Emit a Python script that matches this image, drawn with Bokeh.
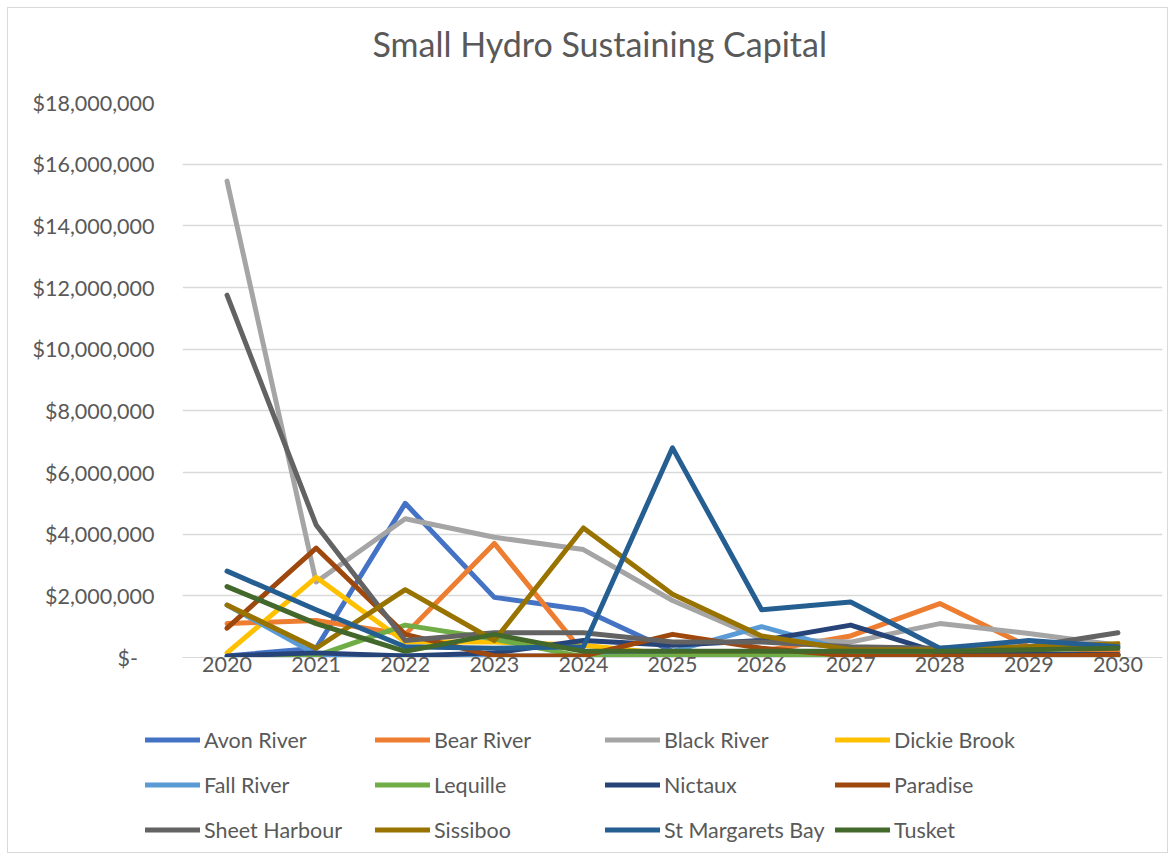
from bokeh.plotting import figure
from bokeh.layouts import column, row
from bokeh.models import (Legend, LegendItem, CustomJSTickFormatter, FixedTicker, Range1d,
                          FactorRange, Title)
from bokeh.embed import file_html
from bokeh.resources import INLINE

years = ["2020", "2021", "2022", "2023", "2024", "2025", "2026", "2027", "2028", "2029", "2030"]

avon_river = [50000, 300000, 5000000, 1950000, 1550000, 200000, 100000, 80000, 80000, 80000, 80000]
bear_river = [1100000, 1200000, 750000, 3700000, 150000, 100000, 200000, 700000, 1750000, 350000, 200000]
black_river = [15450000, 2450000, 4500000, 3900000, 3500000, 1850000, 600000, 500000, 1100000, 780000, 400000]
dickie_brook = [150000, 2600000, 500000, 500000, 400000, 100000, 50000, 50000, 50000, 50000, 50000]
fall_river = [1700000, 100000, 50000, 50000, 50000, 200000, 1000000, 200000, 100000, 100000, 100000]
lequille = [0, 50000, 1050000, 600000, 20000, 50000, 50000, 50000, 50000, 50000, 50000]
nictaux = [50000, 150000, 50000, 150000, 550000, 400000, 550000, 1050000, 150000, 100000, 100000]
paradise = [950000, 3550000, 750000, 50000, 50000, 750000, 300000, 50000, 50000, 50000, 80000]
sheet_harbour = [11750000, 4300000, 550000, 800000, 800000, 500000, 500000, 350000, 300000, 350000, 800000]
sissiboo = [1700000, 300000, 2200000, 550000, 4200000, 2050000, 700000, 250000, 250000, 350000, 450000]
st_margarets_bay = [2800000, 1550000, 350000, 300000, 350000, 6800000, 1550000, 1800000, 300000, 550000, 350000]
tusket = [2300000, 1100000, 200000, 750000, 200000, 200000, 200000, 200000, 200000, 250000, 300000]

series = [
    ("Avon River", avon_river, "#4472C4"),
    ("Bear River", bear_river, "#ED7D31"),
    ("Black River", black_river, "#A5A5A5"),
    ("Dickie Brook", dickie_brook, "#FFC000"),
    ("Fall River", fall_river, "#5B9BD5"),
    ("Lequille", lequille, "#70AD47"),
    ("Nictaux", nictaux, "#264478"),
    ("Paradise", paradise, "#9E480E"),
    ("Sheet Harbour", sheet_harbour, "#636363"),
    ("Sissiboo", sissiboo, "#997300"),
    ("St Margarets Bay", st_margarets_bay, "#255E91"),
    ("Tusket", tusket, "#43682B"),
]

FONT = "Lato"
TXT = "#595959"

p = figure(
    x_range=FactorRange(*years, range_padding=0),
    y_range=Range1d(0, 18000000),
    width=1159, height=709,
    output_backend="svg", toolbar_location=None,
    min_border_left=174, min_border_right=5, min_border_top=94, min_border_bottom=60,
    frame_width=980, frame_height=555,
    title=None,
)
p.outline_line_color = None
p.background_fill_color = "white"
p.border_fill_color = "white"

# spacer panel between frame and title, then the title itself
p.add_layout(Title(text=" ", text_font_size="1px", standoff=36), "above")
p.add_layout(Title(text="Small Hydro Sustaining Capital", align="left", offset=190,
                   text_font=FONT, text_font_size="34px", text_font_style="normal",
                   text_color=TXT, standoff=0), "above")

p.xgrid.grid_line_color = None
p.ygrid.grid_line_color = "#D9D9D9"
p.ygrid.grid_line_width = 1.3
p.yaxis.ticker = FixedTicker(ticks=[i * 2000000 for i in range(10)])
p.yaxis.formatter = CustomJSTickFormatter(code="""
    if (tick == 0) { return "$-\u00a0\u00a0\u00a0"; }
    return "$" + tick.toLocaleString("en-US");
""")
for ax in (p.xaxis, p.yaxis):
    ax.major_tick_line_color = None
    ax.minor_tick_line_color = None
    ax.major_label_text_font = FONT
    ax.major_label_text_font_size = "21.5px"
    ax.major_label_text_color = TXT
p.yaxis.axis_line_color = None
p.yaxis.major_label_standoff = 22
p.xaxis.axis_line_color = "#D9D9D9"
p.xaxis.major_label_standoff = -7

for name, vals, color in series:
    p.line(years, vals, line_color=color, line_width=5, line_cap="round", line_join="round")

# legend strip (separate canvas so nothing gets clipped); its ranges keep the
# series lines out of view so only the legend shows
lg = figure(
    width=1159, height=135, output_backend="svg", toolbar_location=None,
    x_range=FactorRange(*years, range_padding=0), y_range=Range1d(-30000000, -20000000),
    min_border=0, min_border_left=0, min_border_right=0, min_border_top=0, min_border_bottom=0,
)
lg.axis.visible = False
lg.grid.visible = False
lg.outline_line_color = None
lg.background_fill_color = "white"
lg.border_fill_color = "white"

items = []
for name, vals, color in series:
    r = lg.line(years, vals, line_color=color, line_width=5, line_cap="round")
    items.append(LegendItem(label=name, renderers=[r]))

legend = Legend(
    items=items, ncols=4, orientation="horizontal",
    location=(137, 0),
    glyph_width=55, glyph_height=45, label_height=45, label_width=171,
    label_standoff=4, spacing=0, padding=0, margin=0,
    border_line_color=None, background_fill_alpha=0,
    label_text_font=FONT, label_text_font_size="21.5px", label_text_color=TXT,
)
lg.add_layout(legend, "center")

layout = column(p, row(lg), spacing=0,
                styles={"border": "1px solid #d9d9d9", "margin": "7px 0 0 7px"})

open("out.html", "w").write(file_html(layout, INLINE))
